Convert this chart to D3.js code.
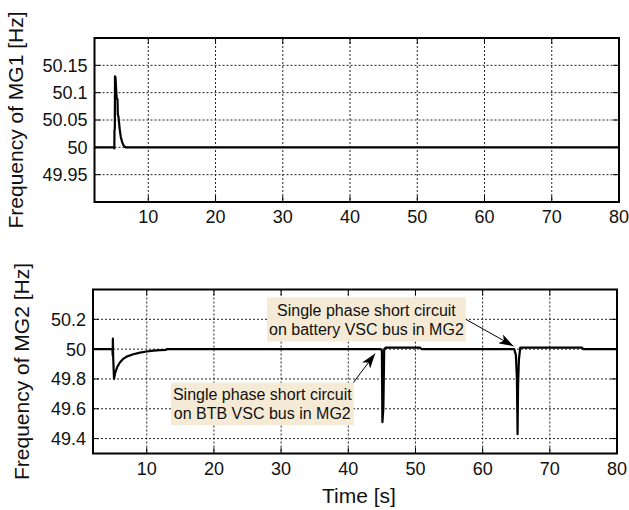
<!DOCTYPE html>
<html>
<head>
<meta charset="utf-8">
<script src="https://cdn.jsdelivr.net/npm/d3@7"></script>
<style>
  body { margin: 0; background: #fff; }
  text { font-family: "Liberation Sans", Arial, sans-serif; fill: #111; }
</style>
</head>
<body>
<svg id="chart" width="629" height="510"></svg>
<script>
// x ticks shared by both panels
const timeTicks = [10, 20, 30, 40, 50, 60, 70, 80];

// MG1 frequency
const mg1Ticks = [49.95, 50, 50.05, 50.1, 50.15];
const mg1Time = [2, 4.9, 4.95, 4.97, 5.02, 5.05, 5.12, 5.2, 5.3, 5.42, 5.47, 5.55, 5.65, 5.75, 5.9, 6.1, 6.3, 6.6, 80];
const mg1Freq = [50, 50, 49.998, 50.032, 50.033, 50.13, 50.128, 50.11, 50.09, 50.088, 50.06, 50.057, 50.045, 50.033, 50.02, 50.01, 50.004, 50, 50];

// MG2 frequency
const mg2Ticks = [49.4, 49.6, 49.8, 50, 50.2];
const mg2Time = [2, 4.9, 4.93, 4.96, 5.0, 5.13, 5.3, 5.6, 6.0, 6.5, 7, 8, 9, 10, 11, 12, 12.9, 13,
                 44.8, 45.0, 45.08, 45.22, 45.35, 45.6, 50.7, 50.9,
                 64.7, 64.95, 65.1, 65.2, 65.27, 65.4, 65.6, 74.8, 75, 80];
const mg2Freq = [50, 50, 49.96, 50.07, 49.95, 49.8, 49.84, 49.88, 49.91, 49.935, 49.95, 49.966, 49.977, 49.984, 49.99, 49.993, 49.995, 50,
                 50, 49.99, 49.51, 49.6, 50.0, 50.01, 50.01, 50,
                 50, 49.96, 49.8, 49.43, 49.75, 49.93, 50.01, 50.01, 50, 50];

// annotation texts
const noteBattery = ["Single phase short circuit", "on battery VSC bus in MG2"];
const noteBTB = ["Single phase short circuit", "on BTB VSC bus in MG2"];

const svg = d3.select("#chart");

svg.append("defs").append("marker")
   .attr("id", "head")
   .attr("viewBox", "0 0 15 10")
   .attr("refX", 15).attr("refY", 5)
   .attr("markerWidth", 15).attr("markerHeight", 10)
   .attr("markerUnits", "userSpaceOnUse")
   .attr("orient", "auto")
   .append("path")
   .attr("d", "M0,0 L15,5 L0,10 L4,5 Z")
   .attr("fill", "#000");

function drawPanel(p) {
  const x = d3.scaleLinear().domain([2, 80]).range([p.left, p.right]);
  const y = d3.scaleLinear().domain(p.yDomain).range([p.bottom, p.top]);
  const g = svg.append("g");

  // dotted grid
  g.selectAll(".gx").data(timeTicks.slice(0, -1)).enter().append("line")
   .attr("x1", d => x(d)).attr("x2", d => x(d))
   .attr("y1", p.top).attr("y2", p.bottom)
   .attr("stroke", "#222").attr("stroke-width", 1).attr("stroke-dasharray", "2,2");
  g.selectAll(".gy").data(p.ticks).enter().append("line")
   .attr("x1", p.left).attr("x2", p.right)
   .attr("y1", d => y(d)).attr("y2", d => y(d))
   .attr("stroke", "#222").attr("stroke-width", 1).attr("stroke-dasharray", "2,2");

  // data
  const line = d3.line().x(d => x(d[0])).y(d => y(d[1]));
  g.append("path")
   .datum(d3.zip(p.time, p.freq))
   .attr("d", line)
   .attr("fill", "none")
   .attr("stroke", "#000")
   .attr("stroke-width", 2.2)
   .attr("stroke-linejoin", "round");

  // inward ticks on all sides
  const tl = 6;
  timeTicks.forEach(t => {
    g.append("line").attr("x1", x(t)).attr("x2", x(t)).attr("y1", p.bottom).attr("y2", p.bottom - tl).attr("stroke", "#000");
    g.append("line").attr("x1", x(t)).attr("x2", x(t)).attr("y1", p.top).attr("y2", p.top + tl).attr("stroke", "#000");
  });
  p.ticks.forEach(v => {
    g.append("line").attr("x1", p.left).attr("x2", p.left + tl).attr("y1", y(v)).attr("y2", y(v)).attr("stroke", "#000");
    g.append("line").attr("x1", p.right).attr("x2", p.right - tl).attr("y1", y(v)).attr("y2", y(v)).attr("stroke", "#000");
  });

  // frame
  g.append("rect")
   .attr("x", p.left).attr("y", p.top)
   .attr("width", p.right - p.left).attr("height", p.bottom - p.top)
   .attr("fill", "none").attr("stroke", "#000").attr("stroke-width", 2);

  // tick labels
  g.selectAll(".xl").data(timeTicks).enter().append("text")
   .attr("x", d => x(d)).attr("y", p.xLabelY)
   .attr("text-anchor", "middle").attr("font-size", 18)
   .text(d => d);
  g.selectAll(".yl").data(p.ticks).enter().append("text")
   .attr("x", p.left - 7).attr("y", d => y(d)).attr("dy", "0.36em")
   .attr("text-anchor", "end").attr("font-size", 18)
   .text(d => d);

  // y title
  g.append("text")
   .attr("transform", `translate(${p.titleX},${(p.top + p.bottom) / 2}) rotate(-90)`)
   .attr("text-anchor", "middle").attr("font-size", 21)
   .text(p.title);

  return { x, y };
}

drawPanel({
  left: 94.5, right: 619, top: 38, bottom: 202,
  yDomain: [49.9, 50.2], ticks: mg1Ticks,
  time: mg1Time, freq: mg1Freq,
  xLabelY: 222.5, titleX: 23, title: "Frequency of MG1 [Hz]"
});

const bottom = drawPanel({
  left: 93, right: 617, top: 289.5, bottom: 453.5,
  yDomain: [49.3, 50.4], ticks: mg2Ticks,
  time: mg2Time, freq: mg2Freq,
  xLabelY: 474.5, titleX: 29, title: "Frequency of MG2 [Hz]"
});

svg.append("text")
   .attr("x", 359).attr("y", 503)
   .attr("text-anchor", "middle").attr("font-size", 21)
   .text("Time [s]");

// annotations placed in data coordinates of the lower panel
function note(lines, box, from, to) {
  const x = bottom.x, y = bottom.y;
  svg.append("line")
     .attr("x1", x(from[0])).attr("y1", y(from[1]))
     .attr("x2", x(to[0])).attr("y2", y(to[1]))
     .attr("stroke", "#000").attr("stroke-width", 1)
     .attr("marker-end", "url(#head)");
  svg.append("rect")
     .attr("x", x(box[0])).attr("y", y(box[3]))
     .attr("width", x(box[1]) - x(box[0])).attr("height", y(box[2]) - y(box[3]))
     .attr("fill", "#f5ead5");
  const cx = (x(box[0]) + x(box[1])) / 2;
  const cy = (y(box[2]) + y(box[3])) / 2;
  svg.append("text")
     .attr("x", cx).attr("y", cy - 9.5).attr("dy", "0.36em")
     .attr("text-anchor", "middle").attr("font-size", 16)
     .text(lines[0]);
  svg.append("text")
     .attr("x", cx).attr("y", cy + 9.5).attr("dy", "0.36em")
     .attr("text-anchor", "middle").attr("font-size", 16)
     .text(lines[1]);
}

note(noteBattery, [27.9, 57.5, 50.051, 50.347], [57.5, 50.2], [64.6, 50.02]);
note(noteBTB, [13.6, 40.8, 49.49, 49.775], [40.75, 49.775], [44.0, 49.97]);
</script>
</body>
</html>
